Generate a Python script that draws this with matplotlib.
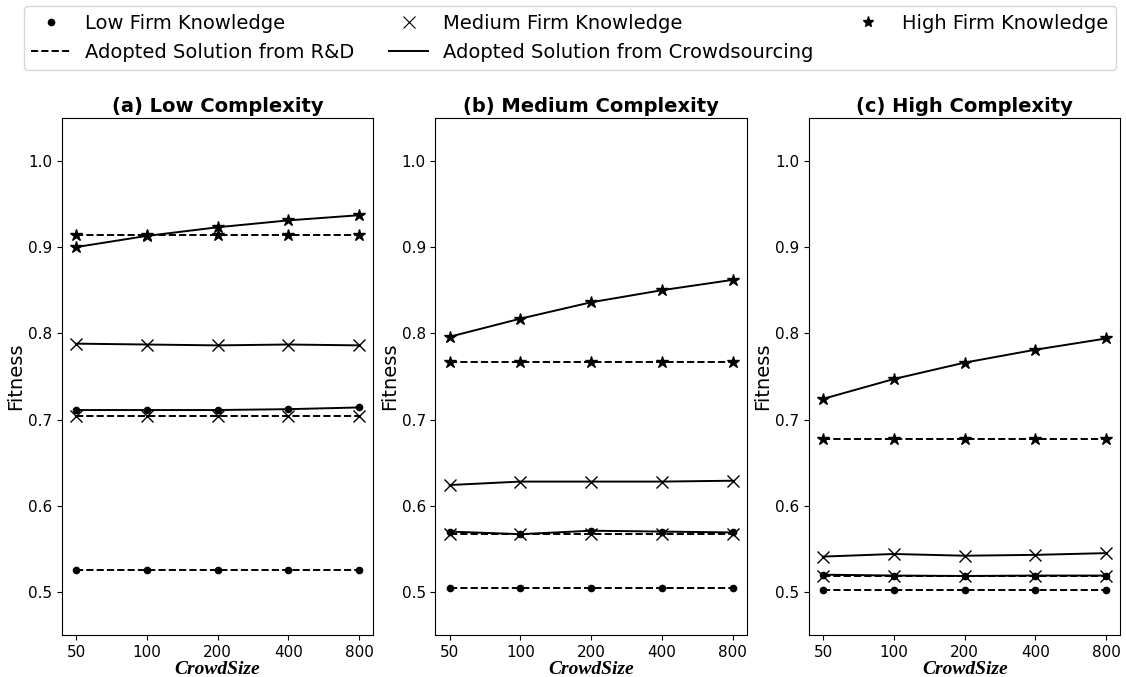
import numpy as np
import matplotlib.pyplot as plt
from matplotlib.lines import Line2D

crowd_sizes = ['50', '100', '200', '400', '800']
titles = ['(a) Low Complexity', '(b) Medium Complexity', '(c) High Complexity']

# R&D (dashed), one value per complexity
rd_low = [0.526, 0.505, 0.502]
rd_med = [0.704, 0.567, 0.519]
rd_high = [0.9135, 0.767, 0.677]

# crowdsourcing (solid)
crowd_low = [
    [0.711, 0.711, 0.711, 0.712, 0.714],
    [0.570, 0.567, 0.571, 0.570, 0.569],
    [0.520, 0.519, 0.5185, 0.519, 0.519],
]
crowd_med = [
    [0.788, 0.787, 0.786, 0.787, 0.786],
    [0.624, 0.628, 0.628, 0.628, 0.629],
    [0.541, 0.544, 0.542, 0.543, 0.545],
]
crowd_high = [
    [0.900, 0.913, 0.923, 0.931, 0.937],
    [0.796, 0.817, 0.836, 0.850, 0.862],
    [0.724, 0.747, 0.766, 0.781, 0.794],
]

x = np.arange(len(crowd_sizes))
n = len(x)

fig, axes = plt.subplots(1, 3, figsize=(11.26, 6.77), dpi=100)
fig.subplots_adjust(left=0.055, right=0.995, top=0.826, bottom=0.062, wspace=0.2)

for i, ax in enumerate(axes):
    ax.plot(x, [rd_low[i]] * n, 'k--', marker='o', ms=4.5, lw=1.4)
    ax.plot(x, [rd_med[i]] * n, 'k--', marker='x', ms=9, mew=1, lw=1.4)
    ax.plot(x, [rd_high[i]] * n, 'k--', marker='*', ms=9, lw=1.4)
    ax.plot(x, crowd_low[i], 'k-', marker='o', ms=4.5, lw=1.4)
    ax.plot(x, crowd_med[i], 'k-', marker='x', ms=9, mew=1, lw=1.4)
    ax.plot(x, crowd_high[i], 'k-', marker='*', ms=9, lw=1.4)
    ax.set_xlim(-0.2, 4.2)
    ax.set_ylim(0.45, 1.05)
    ax.set_yticks([0.5, 0.6, 0.7, 0.8, 0.9, 1.0])
    ax.set_xticks(x)
    ax.set_xticklabels(crowd_sizes)
    ax.tick_params(labelsize=11)
    ax.set_title(titles[i], fontsize=14, fontweight='bold', pad=4)
    ax.set_xlabel('CrowdSize', fontsize=14, family='Liberation Serif',
                  style='italic', fontweight='bold', labelpad=1)
    ax.set_ylabel('Fitness', fontsize=14, labelpad=2)

handles = [
    Line2D([], [], color='k', marker='o', ms=4.5, ls='none'),
    Line2D([], [], color='k', ls='--', lw=1.4),
    Line2D([], [], color='k', marker='x', ms=8, mew=0.8, ls='none'),
    Line2D([], [], color='k', ls='-', lw=1.4),
    Line2D([], [], color='k', marker='*', ms=8, ls='none'),
]
labels = [
    'Low Firm Knowledge',
    'Adopted Solution from R&D',
    'Medium Firm Knowledge',
    'Adopted Solution from Crowdsourcing',
    'High Firm Knowledge',
]
fig.legend(handles, labels, ncol=3, mode='expand', loc='lower left',
           bbox_to_anchor=(0.021, 0.897, 0.970, 0.093), fontsize=14,
           handlelength=2.0, handletextpad=0.75,
           borderaxespad=0.0)

fig.savefig('out.png', dpi=100)
